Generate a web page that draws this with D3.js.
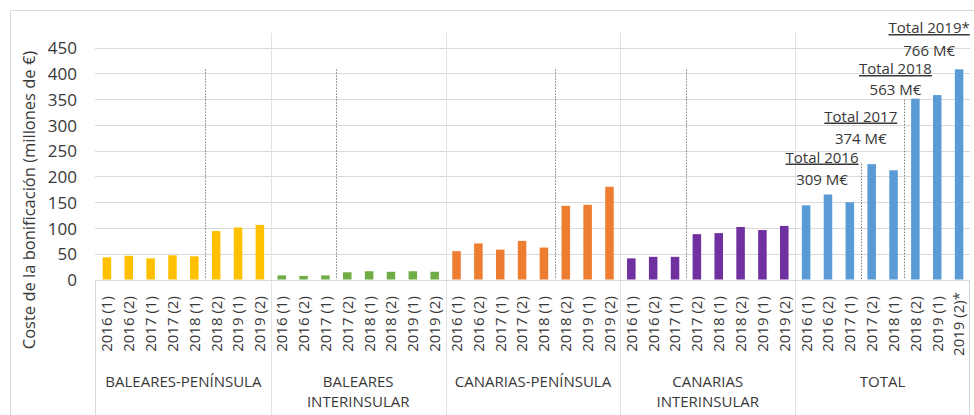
<!DOCTYPE html>
<html>
<head>
<meta charset="utf-8">
<script src="https://cdn.jsdelivr.net/npm/d3@7"></script>
<style>
  html, body { margin: 0; padding: 0; background: #fff; }
  svg { display: block; font-family: "Open Sans", sans-serif; }
</style>
</head>
<body>
<svg id="chart" width="974" height="415"></svg>
<script>
// Half-year periods shown inside every route group
const periods = ["2016 (1)", "2016 (2)", "2017 (1)", "2017 (2)", "2018 (1)", "2018 (2)", "2019 (1)", "2019 (2)"];
const totalPeriods = ["2016 (1)", "2016 (2)", "2017 (1)", "2017 (2)", "2018 (1)", "2018 (2)", "2019 (1)", "2019 (2)*"];

// Route groups (label lines) and their bar colours
const groupLabels = [["BALEARES-PENÍNSULA"], ["BALEARES", "INTERINSULAR"], ["CANARIAS-PENÍNSULA"], ["CANARIAS", "INTERINSULAR"], ["TOTAL"]];
const groupColors = ["#FFC000", "#70AD47", "#ED7D31", "#7030A0", "#5B9BD5"];

// Subsidy cost, millions of euros, per half-year
const balearesPeninsula    = [43, 46, 41, 47, 45, 94, 101, 106];
const balearesInterinsular = [8, 7, 8, 14, 16, 15, 16, 15];
const canariasPeninsula    = [55, 70, 58, 75, 62, 143, 145, 180];
const canariasInterinsular = [41, 44, 44, 88, 90, 102, 96, 104];
const totalCost            = [144, 165, 150, 224, 212, 351, 358, 408];
const seriesValues = [balearesPeninsula, balearesInterinsular, canariasPeninsula, canariasInterinsular, totalCost];

// Index of the first period after the change marked by a dotted line, per group
const changeAfter = [[5], [3], [5], [3], [3, 5]];

// Annual totals annotated above the TOTAL group
const totalYears = ["Total 2016", "Total 2017", "Total 2018", "Total 2019*"];
const totalAmounts = ["309 M€", "374 M€", "563 M€", "766 M€"];

const yTicks = [0, 50, 100, 150, 200, 250, 300, 350, 400, 450];

// ---- layout ----
const svg = d3.select("#chart");
const W = 974, H = 415;
const plotLeft = 96, plotRight = 970, plotTop = 33;
const textColor = "#383838";

const y = d3.scaleLinear().domain([0, 450]).range([279.5, 47.7]);
const baseY = y(0);

// flat list of all bars
const bars = [];
seriesValues.forEach((vals, g) => {
  vals.forEach((v, i) => {
    bars.push({
      key: g + "-" + i,
      group: g,
      period: g === 4 ? totalPeriods[i] : periods[i],
      value: v
    });
  });
});

const x = d3.scaleBand()
  .domain(bars.map(d => d.key))
  .range([plotLeft, plotRight])
  .paddingInner(0.61)
  .paddingOuter(0.305);
const step = x.step();
const groupWidth = step * periods.length;
const groupStart = g => plotLeft + g * groupWidth;
const boundary = k => plotLeft + k * step; // left edge of category k

// outer frame
svg.append("path")
  .attr("d", `M10.5,${H} V10.5 H${W}`)
  .attr("fill", "none")
  .attr("stroke", "#d9d9d9")
  .attr("stroke-width", 1);

// horizontal gridlines
svg.append("g")
  .selectAll("line")
  .data(yTicks.filter(t => t > 0))
  .join("line")
  .attr("x1", plotLeft - 1)
  .attr("x2", plotRight)
  .attr("y1", d => Math.round(y(d)) + 0.5)
  .attr("y2", d => Math.round(y(d)) + 0.5)
  .attr("stroke", "#d9d9d9")
  .attr("stroke-width", 1);

// y axis labels
const yAxis = d3.axisLeft(y).tickValues(yTicks).tickSize(0).tickPadding(0);
const yg = svg.append("g")
  .attr("transform", "translate(77,0)")
  .call(yAxis);
yg.select(".domain").remove();
yg.selectAll("text")
  .attr("fill", textColor)
  .attr("font-size", 17)
  .attr("font-family", "Open Sans, sans-serif")
  .attr("dy", "0.36em");

// y axis title
svg.append("text")
  .attr("transform", "translate(34.5,200) rotate(-90)")
  .attr("text-anchor", "middle")
  .attr("font-size", 16.5)
  .attr("fill", textColor)
  .text("Coste de la bonificación (millones de €)");

// group separators through the plot and the category area
const sepG = svg.append("g");
for (let g = 1; g < groupLabels.length; g++) {
  const sx = Math.round(groupStart(g)) + 0.5;
  sepG.append("line")
    .attr("x1", sx).attr("x2", sx)
    .attr("y1", plotTop).attr("y2", H)
    .attr("stroke", "#e3e3e3");
}
// category-area box: left and right sides and the baseline
[plotLeft, plotRight].forEach(px => {
  sepG.append("line")
    .attr("x1", Math.round(px) - 0.5).attr("x2", Math.round(px) - 0.5)
    .attr("y1", baseY).attr("y2", H)
    .attr("stroke", "#d9d9d9");
});
sepG.append("line")
  .attr("x1", plotLeft - 1).attr("x2", plotRight)
  .attr("y1", Math.round(baseY) + 0.5).attr("y2", Math.round(baseY) + 0.5)
  .attr("stroke", "#d9d9d9");

// dotted change markers
const markerTops = [[408], [408], [408], [408], [225, 349]];
const dots = [];
changeAfter.forEach((list, g) => {
  list.forEach((k, j) => {
    dots.push({ x: boundary(g * periods.length + k), top: markerTops[g][j] });
  });
});
svg.append("g")
  .selectAll("line")
  .data(dots)
  .join("line")
  .attr("x1", d => Math.round(d.x) + 0.5)
  .attr("x2", d => Math.round(d.x) + 0.5)
  .attr("y1", d => y(d.top))
  .attr("y2", baseY)
  .attr("stroke", "#7f7f7f")
  .attr("stroke-width", 1)
  .attr("stroke-dasharray", "1.5,1.5");

// bars
svg.append("g")
  .selectAll("rect")
  .data(bars)
  .join("rect")
  .attr("x", d => x(d.key))
  .attr("width", x.bandwidth())
  .attr("y", d => y(d.value))
  .attr("height", d => baseY - y(d.value))
  .attr("fill", d => groupColors[d.group]);

// rotated period labels
svg.append("g")
  .selectAll("text")
  .data(bars)
  .join("text")
  .attr("transform", d => `translate(${x(d.key) + x.bandwidth() / 2},324) rotate(-90)`)
  .attr("text-anchor", "middle")
  .attr("dy", "0.36em")
  .attr("font-size", 15)
  .attr("fill", textColor)
  .text(d => d.period);

// group labels
const gl = svg.append("g")
  .selectAll("text")
  .data(groupLabels)
  .join("text")
  .attr("x", (d, g) => groupStart(g) + groupWidth / 2)
  .attr("y", 387)
  .attr("text-anchor", "middle")
  .attr("font-size", 15)
  .attr("fill", textColor);
gl.selectAll("tspan")
  .data(d => d)
  .join("tspan")
  .attr("x", function () { return d3.select(this.parentNode).attr("x"); })
  .attr("dy", (d, i) => i === 0 ? 0 : 20)
  .text(d => d);

// annual total annotations (x offset from the pair of bars, baselines)
const annotLayout = [
  { dx: 5, y1: 162.5, y2: 185 },
  { dx: 0, y1: 121.5, y2: 144 },
  { dx: -9, y1: 74, y2: 95 },
  { dx: -19, y1: 33, y2: 56 }
];
const annot = svg.append("g");
totalYears.forEach((label, i) => {
  const k1 = "4-" + (2 * i), k2 = "4-" + (2 * i + 1);
  const cx = (x(k1) + x(k2) + x.bandwidth()) / 2 + annotLayout[i].dx;
  annot.append("text")
    .attr("x", cx)
    .attr("y", annotLayout[i].y1)
    .attr("text-anchor", "middle")
    .attr("font-size", 15)
    .attr("fill", textColor)
    .style("text-decoration", "underline")
    .text(label);
  annot.append("text")
    .attr("x", cx)
    .attr("y", annotLayout[i].y2)
    .attr("text-anchor", "middle")
    .attr("font-size", 15)
    .attr("fill", textColor)
    .text(totalAmounts[i]);
});
</script>
</body>
</html>
